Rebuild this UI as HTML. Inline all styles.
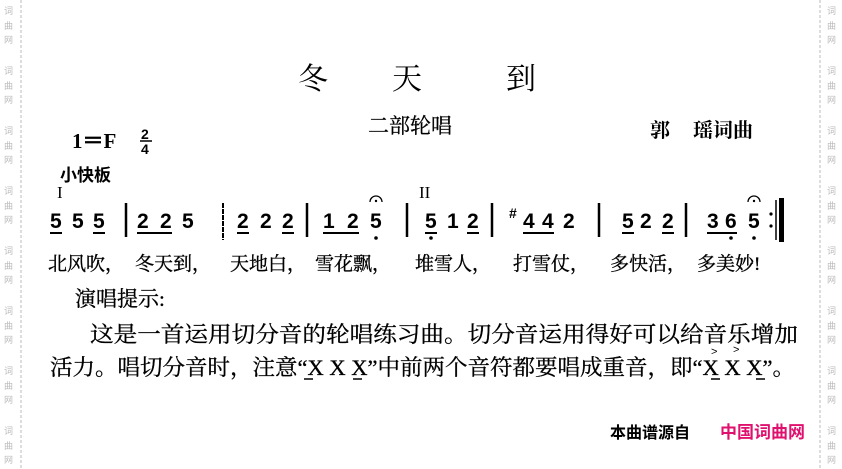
<!DOCTYPE html>
<html><head><meta charset="utf-8"><style>
html,body{margin:0;padding:0;background:#fff;}
svg{display:block;}
.cj{font-family:"Liberation Serif","Noto Serif CJK SC",serif;}
.cs{font-family:"Liberation Sans","Noto Sans CJK SC",sans-serif;}
.n{font-family:"Liberation Sans",sans-serif;font-weight:bold;font-size:21px;}
.wm{font-family:"Noto Sans CJK SC",sans-serif;font-size:9px;fill:#bbb;}
</style></head><body>
<svg width="842" height="469" viewBox="0 0 842 469" xmlns="http://www.w3.org/2000/svg">
<rect width="842" height="469" fill="#fff"/>
<line x1="21" y1="0" x2="21" y2="469" stroke="#bbb" stroke-dasharray="3,2"/>
<line x1="820" y1="0" x2="820" y2="469" stroke="#bbb" stroke-dasharray="3,2"/>
<g class="wm">
<text x="4" y="14">词</text><text x="4" y="29">曲</text><text x="4" y="43">网</text>
<text x="4" y="74">词</text><text x="4" y="89">曲</text><text x="4" y="103">网</text>
<text x="4" y="134">词</text><text x="4" y="149">曲</text><text x="4" y="163">网</text>
<text x="4" y="194">词</text><text x="4" y="209">曲</text><text x="4" y="223">网</text>
<text x="4" y="254">词</text><text x="4" y="269">曲</text><text x="4" y="283">网</text>
<text x="4" y="314">词</text><text x="4" y="329">曲</text><text x="4" y="343">网</text>
<text x="4" y="374">词</text><text x="4" y="389">曲</text><text x="4" y="403">网</text>
<text x="4" y="434">词</text><text x="4" y="449">曲</text><text x="4" y="463">网</text>
<text x="827" y="14">词</text><text x="827" y="29">曲</text><text x="827" y="43">网</text>
<text x="827" y="74">词</text><text x="827" y="89">曲</text><text x="827" y="103">网</text>
<text x="827" y="134">词</text><text x="827" y="149">曲</text><text x="827" y="163">网</text>
<text x="827" y="194">词</text><text x="827" y="209">曲</text><text x="827" y="223">网</text>
<text x="827" y="254">词</text><text x="827" y="269">曲</text><text x="827" y="283">网</text>
<text x="827" y="314">词</text><text x="827" y="329">曲</text><text x="827" y="343">网</text>
<text x="827" y="374">词</text><text x="827" y="389">曲</text><text x="827" y="403">网</text>
<text x="827" y="434">词</text><text x="827" y="449">曲</text><text x="827" y="463">网</text>
</g>
<g class="cj" font-size="30" fill="#000">
<text x="298" y="89">冬</text><text x="392" y="89">天</text><text x="506" y="89">到</text>
</g>
<text class="cj" x="368" y="133" font-size="21" fill="#000" stroke="#000" stroke-width="0.3">二部轮唱</text>
<text class="cj" x="650" y="137" font-size="20" font-weight="bold" fill="#000">郭</text>
<text class="cj" x="693" y="137" font-size="20" font-weight="bold" fill="#000">瑶词曲</text>
<text x="72" y="148" font-family="Liberation Serif,serif" font-weight="bold" font-size="21" fill="#000">1＝F</text>
<g font-family="Liberation Sans,sans-serif" font-weight="bold" font-size="14" fill="#000">
<text x="141" y="139">2</text><line x1="140" y1="141" x2="152" y2="141" stroke="#000" stroke-width="1.5"/><text x="141" y="154">4</text>
</g>
<text class="cs" x="60" y="181" font-size="17" font-weight="bold" fill="#000">小快板</text>
<text x="57" y="198" font-family="Liberation Serif,serif" font-size="17" fill="#000">I</text>
<text x="419" y="198" font-family="Liberation Serif,serif" font-size="17" fill="#000">II</text>
<g class="n" fill="#000">
<text x="50" y="228">5</text><text x="72" y="228">5</text><text x="93" y="228">5</text>
<text x="137" y="228">2</text><text x="160" y="228">2</text><text x="182" y="228">5</text>
<text x="237" y="228">2</text><text x="260" y="228">2</text><text x="282" y="228">2</text>
<text x="323" y="228">1</text><text x="347" y="228">2</text><text x="370" y="228">5</text>
<text x="425" y="228">5</text><text x="447" y="228">1</text><text x="467" y="228">2</text>
<text x="509" y="218" font-size="14">#</text><text x="523" y="228">4</text><text x="542" y="228">4</text><text x="563" y="228">2</text>
<text x="622" y="228">5</text><text x="640" y="228">2</text><text x="662" y="228">2</text>
<text x="707" y="228">3</text><text x="725" y="228">6</text><text x="748" y="228">5</text>
</g>
<g stroke="#000" stroke-width="2">
<line x1="50" y1="233" x2="62" y2="233"/><line x1="93" y1="233" x2="105" y2="233"/>
<line x1="137" y1="233" x2="172" y2="233"/>
<line x1="237" y1="233" x2="249" y2="233"/><line x1="282" y1="233" x2="294" y2="233"/>
<line x1="323" y1="233" x2="359" y2="233"/>
<line x1="425" y1="233" x2="437" y2="233"/><line x1="467" y1="233" x2="479" y2="233"/>
<line x1="523" y1="233" x2="554" y2="233"/>
<line x1="622" y1="233" x2="634" y2="233"/><line x1="662" y1="233" x2="674" y2="233"/>
<line x1="707" y1="233" x2="737" y2="233"/>
</g>
<g stroke="#000" stroke-width="2.5">
<line x1="126" y1="203" x2="126" y2="237"/>
<line x1="307" y1="203" x2="307" y2="237"/>
<line x1="407" y1="203" x2="407" y2="237"/>
<line x1="492" y1="203" x2="492" y2="237"/>
<line x1="599" y1="203" x2="599" y2="237"/>
<line x1="686" y1="203" x2="686" y2="237"/>
</g>
<line x1="223" y1="203" x2="223" y2="240" stroke="#000" stroke-width="2" stroke-dasharray="5,1"/>
<line x1="776" y1="200" x2="776" y2="240" stroke="#000" stroke-width="1.5"/>
<rect x="779" y="198" width="5" height="44" fill="#000"/>
<circle cx="771" cy="214" r="1.6" fill="#000"/><circle cx="771" cy="226" r="1.6" fill="#000"/>
<g fill="#000">
<circle cx="376" cy="238" r="1.8"/><circle cx="431" cy="238" r="1.8"/>
<circle cx="731" cy="238" r="1.8"/><circle cx="754" cy="238" r="1.8"/>
</g>
<g fill="none" stroke="#000" stroke-width="1.3">
<path d="M370 202 A6 6 0 0 1 382 202"/><path d="M748 202 A6 6 0 0 1 760 202"/>
</g>
<circle cx="376" cy="201" r="1.2" fill="#000"/><circle cx="754" cy="201" r="1.2" fill="#000"/>
<g class="cj" font-size="19" fill="#000" stroke="#000" stroke-width="0.35">
<text x="48" y="270">北风吹，</text><text x="135" y="270">冬天到，</text>
<text x="230" y="270">天地白，</text><text x="315" y="270">雪花飘，</text>
<text x="415" y="270">堆雪人，</text><text x="513" y="270">打雪仗，</text>
<text x="610" y="270">多快活，</text><text x="697" y="270">多美妙!</text>
</g>
<text class="cj" x="75" y="306" font-size="21" fill="#000" stroke="#000" stroke-width="0.35">演唱提示:</text>
<text class="cj" x="90" y="342" font-size="22" fill="#000" stroke="#000" stroke-width="0.3" textLength="708" lengthAdjust="spacingAndGlyphs">这是一首运用切分音的轮唱练习曲。切分音运用得好可以给音乐增加</text>
<text class="cj" x="50" y="375" font-size="22" fill="#000" stroke="#000" stroke-width="0.3" textLength="745" lengthAdjust="spacingAndGlyphs">活力。唱切分音时，注意“X X X”中前两个音符都要唱成重音，即“X X X”。</text>
<g stroke="#000" stroke-width="1.5">
<line x1="304" y1="379" x2="313" y2="379"/><line x1="353" y1="379" x2="362" y2="379"/>
<line x1="711" y1="379" x2="720" y2="379"/><line x1="756" y1="379" x2="765" y2="379"/>
</g>
<text x="711" y="355" font-family="Liberation Sans,sans-serif" font-size="11" fill="#000">&gt;</text>
<text x="733" y="353" font-family="Liberation Sans,sans-serif" font-size="11" fill="#000">&gt;</text>
<text class="cs" x="610" y="438" font-size="16" font-weight="bold" fill="#000">本曲谱源自</text>
<text class="cs" x="720" y="438" font-size="17" font-weight="bold" fill="#e0106e">中国词曲网</text>
</svg>
</body></html>
